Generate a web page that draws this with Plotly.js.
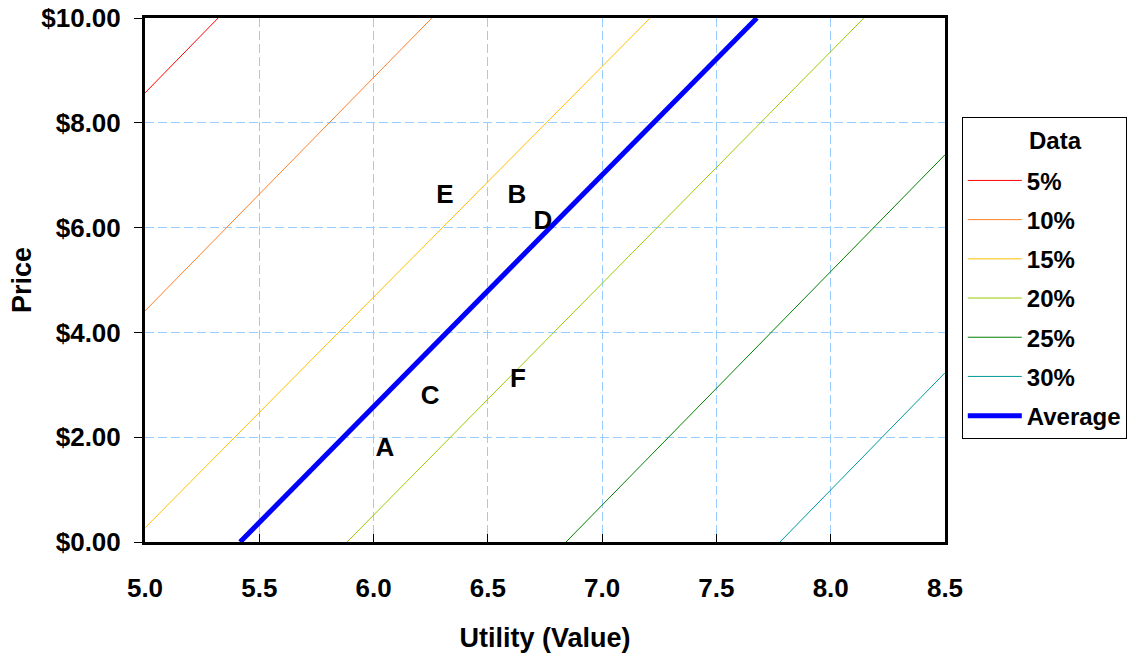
<!DOCTYPE html>
<html>
<head>
<meta charset="utf-8">
<script src="https://cdn.plot.ly/plotly-3.0.1.min.js"></script>
<style>html,body{margin:0;padding:0;background:#fff;}#chart{width:1127px;height:656px;}</style>
</head>
<body>
<div id="chart"></div>
<script>
// Series names and colours
const seriesNames = ['5%', '10%', '15%', '20%', '25%', '30%', 'Average'];
const seriesColors = ['#FF0000', '#FF7F27', '#FFC000', '#99CC00', '#008000', '#009999', '#0000FF'];
const seriesWidths = [1, 1, 1, 1, 1, 1, 5];
const legendTitle = 'Data';

// Line endpoints (Utility, Price)
const line5X = [5.0, 5.32];     const line5Y = [8.57, 10];
const line10X = [5.0, 6.255];   const line10Y = [4.41, 10];
const line15X = [5.0, 7.21];    const line15Y = [0.27, 10];
const line20X = [5.884, 8.145]; const line20Y = [0, 10];
const line25X = [6.842, 8.5];   const line25Y = [0, 7.39];
const line30X = [7.778, 8.5];   const line30Y = [0, 3.23];
const avgX = [5.416, 7.677];    const avgY = [0, 10];

// Point labels
const pointLabels = ['A', 'B', 'C', 'D', 'E', 'F'];
const pointX = [6.05, 6.627, 6.247, 6.741, 6.312, 6.632];
const pointY = [1.76, 6.60, 2.75, 6.09, 6.60, 3.09];

const xs = [line5X, line10X, line15X, line20X, line25X, line30X, avgX];
const ys = [line5Y, line10Y, line15Y, line20Y, line25Y, line30Y, avgY];

const FONT = '"Liberation Sans", Arial, sans-serif';

const traces = seriesNames.map((n, i) => ({
  type: 'scatter', mode: 'lines', name: n, legendgroup: 'g' + i,
  x: xs[i], y: ys[i],
  line: {color: seriesColors[i], width: seriesWidths[i]},
  hoverinfo: 'skip'
}));
traces.push({
  type: 'scatter', mode: 'text', x: pointX, y: pointY, text: pointLabels,
  textposition: 'middle center', showlegend: false,
  textfont: {family: FONT, size: 26, color: '#000', weight: 'bold'},
  hoverinfo: 'skip'
});

const layout = {
  width: 1127, height: 656,
  margin: {l: 145, r: 182, t: 18, b: 114, autoexpand: false},
  paper_bgcolor: '#fff', plot_bgcolor: '#fff',
  font: {family: FONT, color: '#000'},
  showlegend: true,
  legend: {
    x: 1.021, y: 0.811, xanchor: 'left', yanchor: 'top',
    bordercolor: '#000', borderwidth: 1, bgcolor: '#fff',
    font: {family: FONT, size: 24, color: '#000', weight: 'bold'},
    title: {text: '&nbsp;', side: 'top center', font: {family: FONT, size: 31, weight: 'bold'}},
    itemwidth: 54, tracegroupgap: 5
  },
  annotations: [{
    text: legendTitle, xref: 'paper', yref: 'paper', x: 1.1375, y: (542 - 140) / 524,
    xanchor: 'center', yanchor: 'middle', showarrow: false,
    font: {family: FONT, size: 24, weight: 'bold', color: '#000'}
  }],
  xaxis: {
    range: [5, 8.5], dtick: 0.5, tick0: 5, tickformat: '.1f',
    showline: true, linecolor: '#000', linewidth: 3, mirror: true,
    ticks: 'inside', ticklen: 8, tickwidth: 1, tickcolor: '#000',
    showgrid: true, gridcolor: '#99CCFF', griddash: '9px,4px', gridwidth: 1,
    zeroline: false, ticklabelstandoff: 21,
    tickfont: {family: FONT, size: 26, weight: 'bold'},
    title: {text: 'Utility (Value)', font: {family: FONT, size: 27, weight: 'bold'}, standoff: 26}
  },
  yaxis: {
    range: [0, 10], dtick: 2, tick0: 0, tickprefix: '$', tickformat: '.2f',
    showline: true, linecolor: '#000', linewidth: 3, mirror: true,
    ticks: 'outside', ticklen: 8, tickwidth: 1, tickcolor: '#000',
    showgrid: true, gridcolor: '#99CCFF', griddash: '9px,4px', gridwidth: 1,
    zeroline: false, ticklabelstandoff: 8,
    tickfont: {family: FONT, size: 26, weight: 'bold'},
    title: {text: 'Price', font: {family: FONT, size: 27, weight: 'bold'}, standoff: 2}
  }
};

Plotly.newPlot('chart', traces, layout, {displayModeBar: false, staticPlot: true});
</script>
</body>
</html>
